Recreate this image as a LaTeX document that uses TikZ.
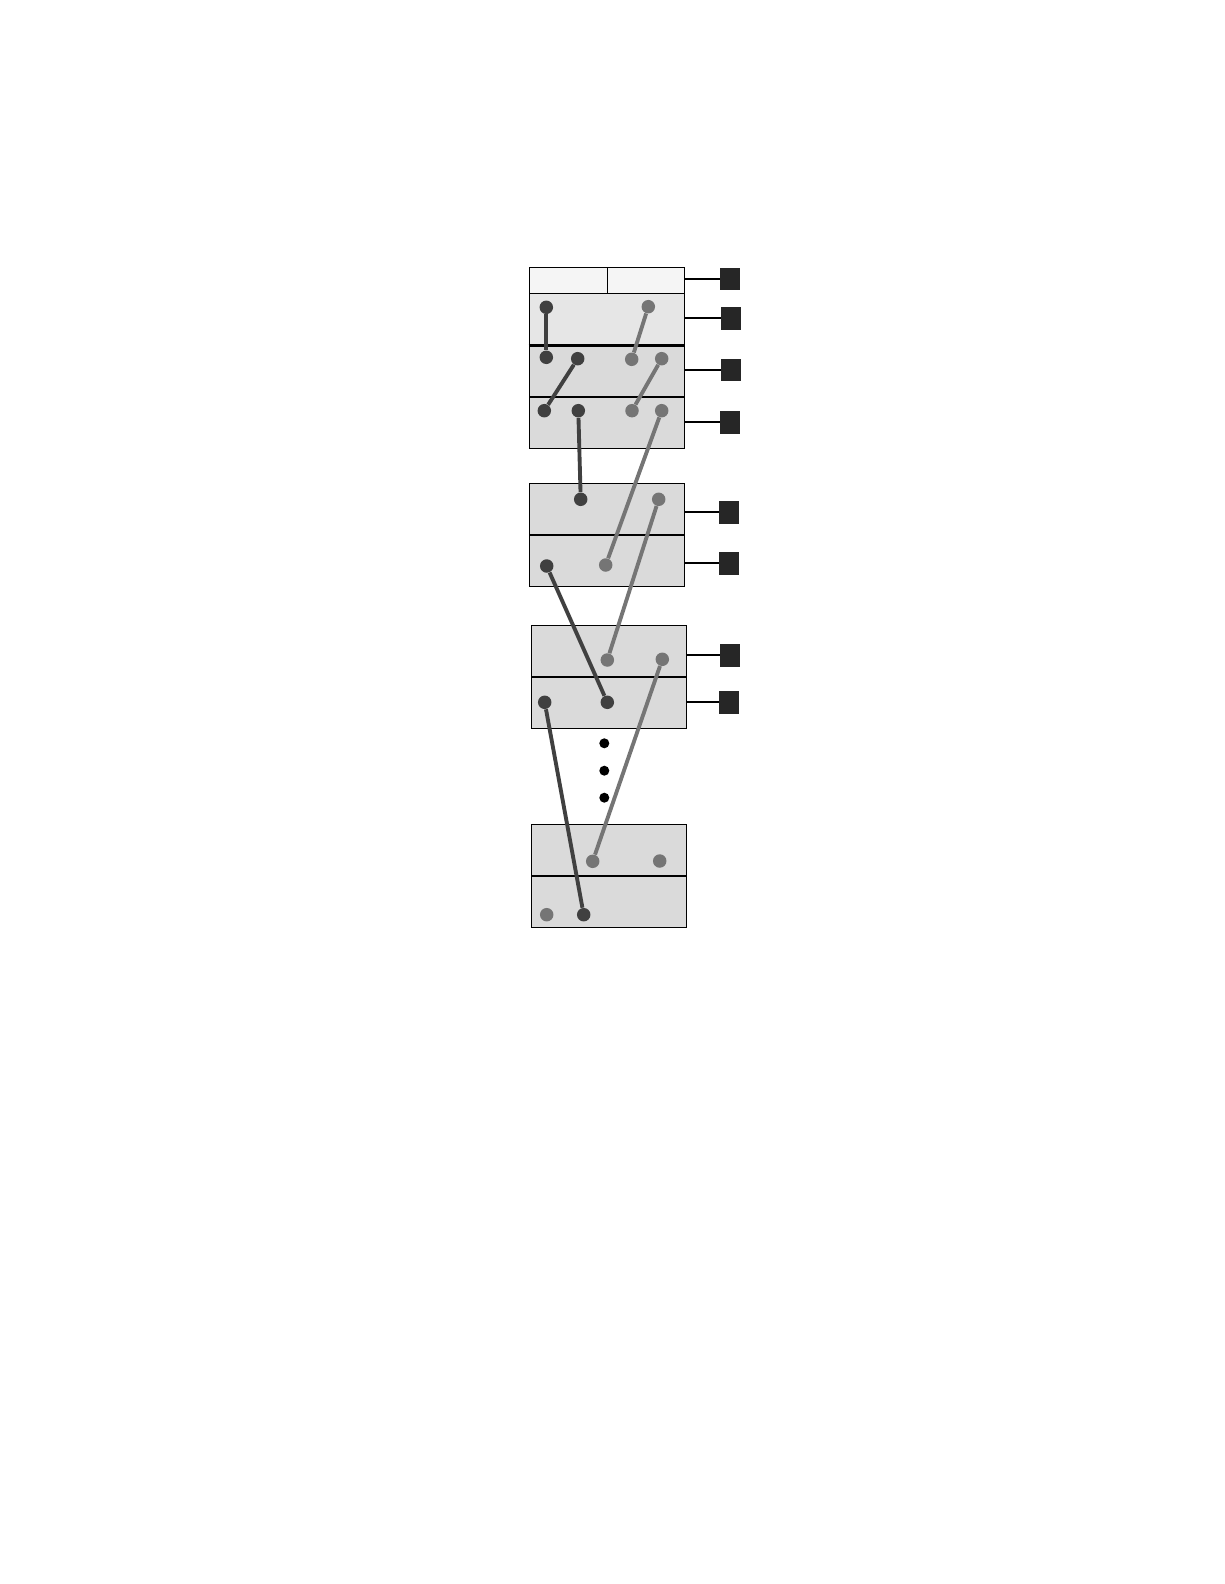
\documentclass[tikz,border=0pt]{standalone}
\usepackage{tikz}
\usetikzlibrary{calc}

\definecolor{darkdot}{RGB}{64,64,64}
\definecolor{greydot}{RGB}{117,117,117}
\definecolor{boxfill}{RGB}{218,218,218}
\definecolor{boxfilltop}{RGB}{230,230,230}
\definecolor{headfill}{RGB}{245,245,245}
\definecolor{tagfill}{RGB}{38,38,38}

\begin{document}
\begin{tikzpicture}
[x=0.02cm,y=-0.02cm,
row/.style={draw,line width=0.7pt,fill=boxfill,minimum width=3.1cm,minimum height=1.03cm,inner sep=0pt},
head/.style={draw,line width=0.7pt,fill=headfill,minimum height=0.52cm,inner sep=0pt},
tag/.style={fill=tagfill,minimum width=0.4cm,minimum height=0.45cm,inner sep=0pt},
dk/.style={circle,fill=darkdot,minimum size=0.27cm,inner sep=0pt},
gr/.style={circle,fill=greydot,minimum size=0.27cm,inner sep=0pt},
dkline/.style={darkdot,line width=2.2pt},
grline/.style={greydot,line width=2.2pt},
]

\useasboundingbox (0,0) rectangle (1224,1584);

%Drawing blocks
\node (h1l) at (568.3,280.3)[head,minimum width=1.56cm] {};
\node (h1r) at (645.8,280.3)[head,minimum width=1.54cm] {};
\node (r1a) at (606.8,319.2)[row,fill=boxfilltop] {};
\node (r1b) at (606.8,371.2)[row] {};
\node (r1c) at (606.8,422.8)[row] {};
\draw[line width=1.3pt] (r1a.south west) -- (r1a.south east);

\node (r2a) at (606.8,509.3)[row] {};
\node (r2b) at (606.8,560.7)[row] {};

\node (r3a) at (608.8,651.2)[row] {};
\node (r3b) at (608.8,702.7)[row] {};

\node (r4a) at (608.8,850.3)[row] {};
\node (r4b) at (608.8,901.8)[row] {};

%Tags on the right
\node (s1) at (730,279)[tag] {};
\node (s2) at (731,318.3)[tag] {};
\node (s3) at (731,370)[tag] {};
\node (s4) at (730,422.3)[tag] {};
\node (s5) at (729,512.3)[tag] {};
\node (s6) at (729,563.3)[tag] {};
\node (s7) at (730,655.3)[tag] {};
\node (s8) at (729,702.3)[tag] {};

\draw[line width=1pt] (h1r.east |- s1) -- (s1);
\draw[line width=1pt] (r1a.east |- s2) -- (s2);
\draw[line width=1pt] (r1b.east |- s3) -- (s3);
\draw[line width=1pt] (r1c.east |- s4) -- (s4);
\draw[line width=1pt] (r2a.east |- s5) -- (s5);
\draw[line width=1pt] (r2b.east |- s6) -- (s6);
\draw[line width=1pt] (r3a.east |- s7) -- (s7);
\draw[line width=1pt] (r3b.east |- s8) -- (s8);

%Labeling points
\node (A1) at (546.3,307.3)[dk] {};
\node (A2) at (648.3,306.7)[gr] {};
\node (B1) at (546.3,357.3)[dk] {};
\node (B2) at (577.7,358.7)[dk] {};
\node (B3) at (631.7,359.3)[gr] {};
\node (B4) at (661.7,358.7)[gr] {};
\node (C1) at (544.3,410.7)[dk] {};
\node (C2) at (578.3,410.7)[dk] {};
\node (C3) at (632,410.7)[gr] {};
\node (C4) at (661.7,410.7)[gr] {};

\node (D1) at (580.7,499.3)[dk] {};
\node (D2) at (658.7,499.3)[gr] {};
\node (E1) at (546.7,566)[dk] {};
\node (E2) at (605.7,565)[gr] {};

\node (F1) at (607.3,660)[gr] {};
\node (F2) at (662.3,659.3)[gr] {};
\node (G1) at (544.7,702.3)[dk] {};
\node (G2) at (607.3,702.3)[dk] {};

\node (H1) at (592.7,861.3)[gr] {};
\node (H2) at (659.7,861)[gr] {};
\node (K1) at (546.7,914.7)[gr] {};
\node (K2) at (583.7,914.7)[dk] {};

%Dots between blocks
\foreach \i/\y in {1/743.3,2/770.7,3/797.7}
  \node (e\i) at (604.3,\y)[circle,fill=black,minimum size=0.2cm,inner sep=0pt] {};

%Joining points
\draw[dkline] (A1) -- (B1);
\draw[dkline] (B2) -- (C1);
\draw[dkline] (C2) -- (D1);
\draw[dkline] (E1) -- (G2);
\draw[dkline] (G1) -- (K2);

\draw[grline] (A2) -- (B3);
\draw[grline] (B4) -- (C3);
\draw[grline] (C4) -- (E2);
\draw[grline] (D2) -- (F1);
\draw[grline] (F2) -- (H1);

\end{tikzpicture}
\end{document}
